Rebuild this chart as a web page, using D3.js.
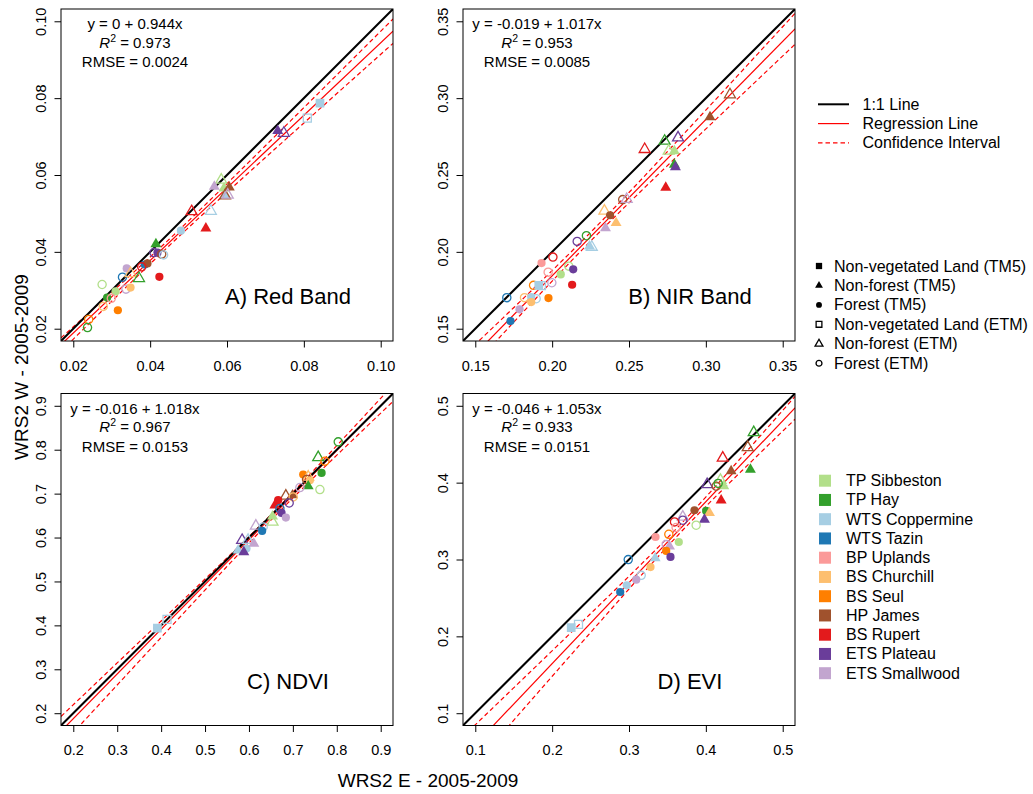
<!DOCTYPE html>
<html><head><meta charset="utf-8">
<script src="https://cdn.jsdelivr.net/npm/d3@7"></script>
<style>body{margin:0;background:#fff;} svg{display:block;font-family:"Liberation Sans",Arial,sans-serif;}</style>
</head><body><svg id="c" width="1033" height="794"></svg>
<script>
// ---------- DATA ----------
const sites = ["TP Sibbeston","TP Hay","WTS Coppermine","WTS Tazin","BP Uplands","BS Churchill","BS Seul","HP James","BS Rupert","ETS Plateau","ETS Smallwood"];
const siteColors = ["#B2DF8A","#33A02C","#A6CEE3","#1F78B4","#FB9A99","#FDBF6F","#FF7F00","#A0522D","#E31A1C","#6A3D9A","#C2A5CF"];
const typeCodes = ["NV5","NF5","F5","NVE","NFE","FE"];
const typeLabels = ["Non-vegetated Land (TM5)","Non-forest (TM5)","Forest (TM5)","Non-vegetated Land (ETM)","Non-forest (ETM)","Forest (ETM)"];
const lineLabels = ["1:1 Line","Regression Line","Confidence Interval"];
const panelTitles = ["A) Red Band","B) NIR Band","C) NDVI","D) EVI"];
const axisLimits = [[0.02,0.10],[0.15,0.35],[0.2,0.9],[0.1,0.5]];
const tickValues = [[0.02,0.04,0.06,0.08,0.10],[0.15,0.20,0.25,0.30,0.35],[0.2,0.3,0.4,0.5,0.6,0.7,0.8,0.9],[0.1,0.2,0.3,0.4,0.5]];
const tickLabels = [["0.02","0.04","0.06","0.08","0.10"],["0.15","0.20","0.25","0.30","0.35"],["0.2","0.3","0.4","0.5","0.6","0.7","0.8","0.9"],["0.1","0.2","0.3","0.4","0.5"]];
const intercepts = [0,-0.019,-0.016,-0.046];
const slopes = [0.944,1.017,1.018,1.053];
const eqLabels = ["y = 0 + 0.944x","y = -0.019 + 1.017x","y = -0.016 + 1.018x","y = -0.046 + 1.053x"];
const r2Labels = ["0.973","0.953","0.967","0.933"];
const rmseLabels = ["0.0024","0.0085","0.0153","0.0151"];
const xTitle = "WRS2 E - 2005-2009";
const yTitle = "WRS2 W - 2005-2009";

// [site index, type, WRS2 E, WRS2 W]
const redBand = [
 [2,"NV5",0.0842,0.0787],[2,"NVE",0.0809,0.0748],[9,"NF5",0.0732,0.0715],[9,"NFE",0.0748,0.0709],
 [0,"NFE",0.0585,0.0587],[10,"NF5",0.0567,0.0570],[0,"NF5",0.0592,0.0565],[7,"NF5",0.0606,0.0568],
 [2,"NF5",0.0595,0.0546],[7,"NFE",0.0595,0.0546],[10,"NFE",0.0602,0.0548],[8,"NFE",0.0508,0.0505],
 [2,"NFE",0.0558,0.0506],[8,"NF5",0.0545,0.0461],[2,"F5",0.0480,0.0455],[1,"NF5",0.0415,0.0420],
 [9,"FE",0.0410,0.0398],[9,"F5",0.0419,0.0398],[7,"FE",0.0430,0.0394],[2,"FE",0.0435,0.0392],
 [3,"F5",0.0386,0.0367],[7,"F5",0.0393,0.0370],[8,"FE",0.0378,0.0361],[10,"F5",0.0339,0.0357],
 [3,"FE",0.0328,0.0334],[5,"NFE",0.0349,0.0344],[1,"NFE",0.0371,0.0331],[8,"F5",0.0424,0.0335],
 [0,"FE",0.0275,0.0315],[0,"F5",0.0310,0.0297],[10,"FE",0.0337,0.0303],[5,"F5",0.0349,0.0307],
 [1,"F5",0.0288,0.0281],[4,"FE",0.0299,0.0279],[5,"FE",0.0278,0.0258],[6,"F5",0.0316,0.0248],
 [6,"FE",0.0240,0.0224],[1,"FE",0.0237,0.0203]
];
const nirBand = [
 [7,"NFE",0.3157,0.3023],[7,"NF5",0.3027,0.2877],[8,"NFE",0.2602,0.2667],[1,"NFE",0.2732,0.2721],
 [9,"NFE",0.2819,0.2743],[0,"NFE",0.2758,0.2656],[0,"NF5",0.2795,0.2656],[1,"NF5",0.2795,0.2567],
 [9,"NF5",0.2802,0.2552],[8,"NF5",0.2739,0.2418],[7,"FE",0.2459,0.2340],[10,"NFE",0.2485,0.2342],
 [5,"NFE",0.2340,0.2266],[7,"F5",0.2377,0.2238],[5,"NF5",0.2416,0.2188],[10,"NF5",0.2347,0.2155],
 [1,"FE",0.2223,0.2105],[9,"FE",0.2163,0.2068],[2,"NF5",0.2243,0.2036],[2,"NFE",0.2258,0.2031],
 [8,"FE",0.2005,0.1966],[4,"F5",0.1931,0.1927],[4,"FE",0.1974,0.1868],[0,"FE",0.2108,0.1907],
 [9,"F5",0.2137,0.1886],[0,"F5",0.2056,0.1853],[10,"FE",0.1998,0.1799],[8,"F5",0.2130,0.1786],
 [6,"FE",0.1879,0.1782],[2,"NV5",0.1913,0.1782],[2,"NVE",0.1930,0.1780],[3,"FE",0.1705,0.1702],
 [5,"FE",0.1820,0.1702],[2,"FE",0.1896,0.1695],[2,"F5",0.1864,0.1706],[6,"F5",0.1976,0.1699],
 [5,"F5",0.1864,0.1673],[10,"F5",0.1788,0.1626],[3,"F5",0.1729,0.1550]
];
const ndvi = [
 [2,"NV5",0.3915,0.3938],[2,"NVE",0.4134,0.4136],[1,"FE",0.8033,0.8179],[1,"NFE",0.7577,0.7823],
 [6,"FE",0.7730,0.7739],[1,"F5",0.7654,0.7472],[6,"F5",0.7235,0.7435],[5,"NFE",0.7349,0.7381],
 [7,"FE",0.7312,0.7321],[5,"F5",0.7388,0.7305],[1,"NF5",0.7349,0.7169],[0,"FE",0.7616,0.7093],
 [10,"FE",0.7160,0.7139],[7,"NF5",0.6993,0.6964],[7,"NFE",0.6840,0.6948],[5,"FE",0.7007,0.6925],
 [8,"F5",0.6665,0.6850],[8,"NF5",0.6590,0.6736],[9,"FE",0.6916,0.6788],[3,"FE",0.6704,0.6660],
 [9,"F5",0.6742,0.6560],[10,"F5",0.6840,0.6455],[0,"NF5",0.6537,0.6485],[0,"NFE",0.6537,0.6355],
 [10,"NFE",0.6157,0.6264],[2,"FE",0.6323,0.6241],[3,"F5",0.6300,0.6150],[9,"NFE",0.5844,0.5938],
 [2,"NFE",0.5980,0.5940],[2,"F5",0.5944,0.5748],[2,"NF5",0.5753,0.5709],[10,"NF5",0.6111,0.5862],
 [9,"NF5",0.5883,0.5671]
];
const evi = [
 [1,"NFE",0.4623,0.4653],[7,"NFE",0.4545,0.4458],[8,"NFE",0.4220,0.4322],[7,"NF5",0.4329,0.4149],
 [1,"NF5",0.4580,0.4171],[9,"NFE",0.4017,0.3976],[0,"NFE",0.4190,0.4032],[0,"NF5",0.4233,0.3954],
 [7,"FE",0.4134,0.3954],[1,"FE",0.4160,0.3990],[8,"NF5",0.4199,0.3771],[7,"F5",0.3852,0.3641],
 [1,"F5",0.4004,0.3632],[5,"NF5",0.4047,0.3606],[9,"NF5",0.3982,0.3520],[0,"FE",0.3874,0.3446],
 [10,"NFE",0.3700,0.3554],[9,"FE",0.3700,0.3511],[8,"FE",0.3592,0.3489],[4,"FE",0.3613,0.3416],
 [6,"FE",0.3518,0.3328],[4,"F5",0.3345,0.3293],[0,"F5",0.3648,0.3228],[10,"NF5",0.3527,0.3172],
 [10,"FE",0.3484,0.3194],[6,"F5",0.3484,0.3111],[9,"F5",0.3540,0.3033],[2,"NF5",0.3341,0.3020],
 [3,"FE",0.2990,0.2999],[5,"F5",0.3280,0.2902],[2,"FE",0.3159,0.2794],[10,"F5",0.3094,0.2738],
 [2,"F5",0.2971,0.2664],[3,"F5",0.2886,0.2577],[2,"NV5",0.2248,0.2113],[2,"NVE",0.2343,0.2156]
];
const panelData = [redBand, nirBand, ndvi, evi];

// ---------- LAYOUT ----------
const svg = d3.select("#c");
const S = 332;
const boxes = [[61,9],[463,9],[61,393.5],[463,393.5]];

function drawSymbol(sel, type, color, scale) {
  const filled = type.endsWith("5");
  const k = type.slice(0,2);
  let el;
  if (k === "FE" || k === "F5") {
    el = sel.append("circle").attr("r", 4.1*scale);
  } else if (k === "NF") {
    el = sel.append("path").attr("d", d3.symbol(d3.symbolTriangle, 52*scale*scale)());
  } else {
    el = sel.append("path").attr("d", d3.symbol(d3.symbolSquare, (filled?76:64)*scale*scale)());
  }
  if (filled) el.attr("fill", color).attr("stroke", "none");
  else el.attr("fill", "none").attr("stroke", color).attr("stroke-width", 1.3);
}

panelData.forEach((data, p) => {
  const [bx, by] = boxes[p];
  const [lo, hi] = axisLimits[p];
  const pad = (hi - lo) * 0.04;
  const dom = [lo - pad, hi + pad];
  const x = d3.scaleLinear().domain(dom).range([0, S]);
  const y = d3.scaleLinear().domain(dom).range([S, 0]);
  const g = svg.append("g").attr("transform", `translate(${bx},${by})`);
  const cid = "clip" + p;
  g.append("clipPath").attr("id", cid).append("rect").attr("width", S).attr("height", S);
  const inner = g.append("g").attr("clip-path", `url(#${cid})`);

  // regression stats for confidence band
  const a = intercepts[p], b = slopes[p];
  const n = data.length;
  const xbar = d3.mean(data, d => d[2]);
  const sxx = d3.sum(data, d => (d[2] - xbar) ** 2);
  const sres = Math.sqrt(d3.sum(data, d => (d[3] - (a + b * d[2])) ** 2) / (n - 2));
  const tval = 2.02;
  const xs = d3.range(0, 201).map(i => dom[0] + (dom[1] - dom[0]) * i / 200);
  const half = xv => tval * sres * Math.sqrt(1 / n + (xv - xbar) ** 2 / sxx);
  const line = d3.line().x(d => x(d[0])).y(d => y(d[1]));

  inner.append("path").attr("d", line(xs.map(v => [v, a + b * v + half(v)])))
    .attr("fill", "none").attr("stroke", "#FF0000").attr("stroke-width", 1.2).attr("stroke-dasharray", "4.5,3");
  inner.append("path").attr("d", line(xs.map(v => [v, a + b * v - half(v)])))
    .attr("fill", "none").attr("stroke", "#FF0000").attr("stroke-width", 1.2).attr("stroke-dasharray", "4.5,3");
  inner.append("path").attr("d", line([[dom[0], a + b * dom[0]], [dom[1], a + b * dom[1]]]))
    .attr("fill", "none").attr("stroke", "#FF0000").attr("stroke-width", 1.2);
  inner.append("path").attr("d", line([[dom[0], dom[0]], [dom[1], dom[1]]]))
    .attr("fill", "none").attr("stroke", "#000").attr("stroke-width", 2);

  // points (on top of the lines)
  data.forEach(d => {
    const s = inner.append("g").attr("transform", `translate(${x(d[2])},${y(d[3])})`);
    drawSymbol(s, d[1], siteColors[d[0]], 1);
  });

  // box
  g.append("rect").attr("width", S).attr("height", S).attr("fill", "none").attr("stroke", "#000").attr("stroke-width", 1);

  // axes
  const ax = g.append("g").attr("transform", `translate(0,${S})`)
    .call(d3.axisBottom(x).tickValues(tickValues[p]).tickFormat((d, i) => tickLabels[p][i]).tickSize(6.5));
  ax.select(".domain").remove();
  ax.selectAll("text").attr("y", 29.5).attr("dy", 0).attr("font-size", 14.5).attr("fill", "#000")
    .attr("font-family", "Liberation Sans, Arial, sans-serif");
  const ay = g.append("g")
    .call(d3.axisLeft(y).tickValues(tickValues[p]).tickFormat((d, i) => tickLabels[p][i]).tickSize(6.5));
  ay.select(".domain").remove();
  ay.selectAll("text").attr("transform", "rotate(-90)").attr("x", 0).attr("y", -15).attr("dy", 0)
    .attr("text-anchor", "middle").attr("font-size", 14.5).attr("fill", "#000")
    .attr("font-family", "Liberation Sans, Arial, sans-serif");

  // annotation
  const cx = 74;
  g.append("text").attr("x", cx).attr("y", 20).attr("text-anchor", "middle").attr("font-size", 15).text(eqLabels[p]);
  const r2 = g.append("text").attr("x", cx).attr("y", 38.5).attr("text-anchor", "middle").attr("font-size", 15);
  r2.append("tspan").attr("font-style", "italic").text("R");
  r2.append("tspan").attr("dy", -6).attr("font-size", 10.5).text("2");
  r2.append("tspan").attr("dy", 6).text(" = " + r2Labels[p]);
  g.append("text").attr("x", cx).attr("y", 58).attr("text-anchor", "middle").attr("font-size", 15).text("RMSE = " + rmseLabels[p]);

  g.append("text").attr("x", 227).attr("y", S - 37).attr("text-anchor", "middle").attr("font-size", 22).text(panelTitles[p]);
});

// axis titles
svg.append("text").attr("x", 428).attr("y", 787).attr("text-anchor", "middle").attr("font-size", 19).text(xTitle);
svg.append("text").attr("transform", "translate(28,367) rotate(-90)").attr("text-anchor", "middle").attr("font-size", 19).text(yTitle);

// line legend
const lg = svg.append("g");
const lineStyles = [["#000", 2, null], ["#FF0000", 1.2, null], ["#FF0000", 1.2, "4.5,3"]];
lineLabels.forEach((t, i) => {
  const yy = 104.3 + i * 19.3;
  const l = lg.append("line").attr("x1", 818).attr("x2", 849).attr("y1", yy).attr("y2", yy)
    .attr("stroke", lineStyles[i][0]).attr("stroke-width", lineStyles[i][1]);
  if (lineStyles[i][2]) l.attr("stroke-dasharray", lineStyles[i][2]);
  lg.append("text").attr("x", 862.5).attr("y", yy + 5.5).attr("font-size", 16).text(t);
});

// shape legend
typeCodes.forEach((t, i) => {
  const yy = 266 + i * 19.45;
  const s = svg.append("g").attr("transform", `translate(819,${yy})`);
  drawSymbol(s, t, "#000", 0.72);
  svg.append("text").attr("x", 834).attr("y", yy + 5.5).attr("font-size", 16).text(typeLabels[i]);
});

// site colour legend
sites.forEach((t, i) => {
  const yy = 480.7 + i * 19.25;
  svg.append("rect").attr("x", 819).attr("y", yy - 6).attr("width", 12).attr("height", 12).attr("fill", siteColors[i]);
  svg.append("text").attr("x", 846).attr("y", yy + 5.5).attr("font-size", 16).text(t);
});
</script></body></html>
